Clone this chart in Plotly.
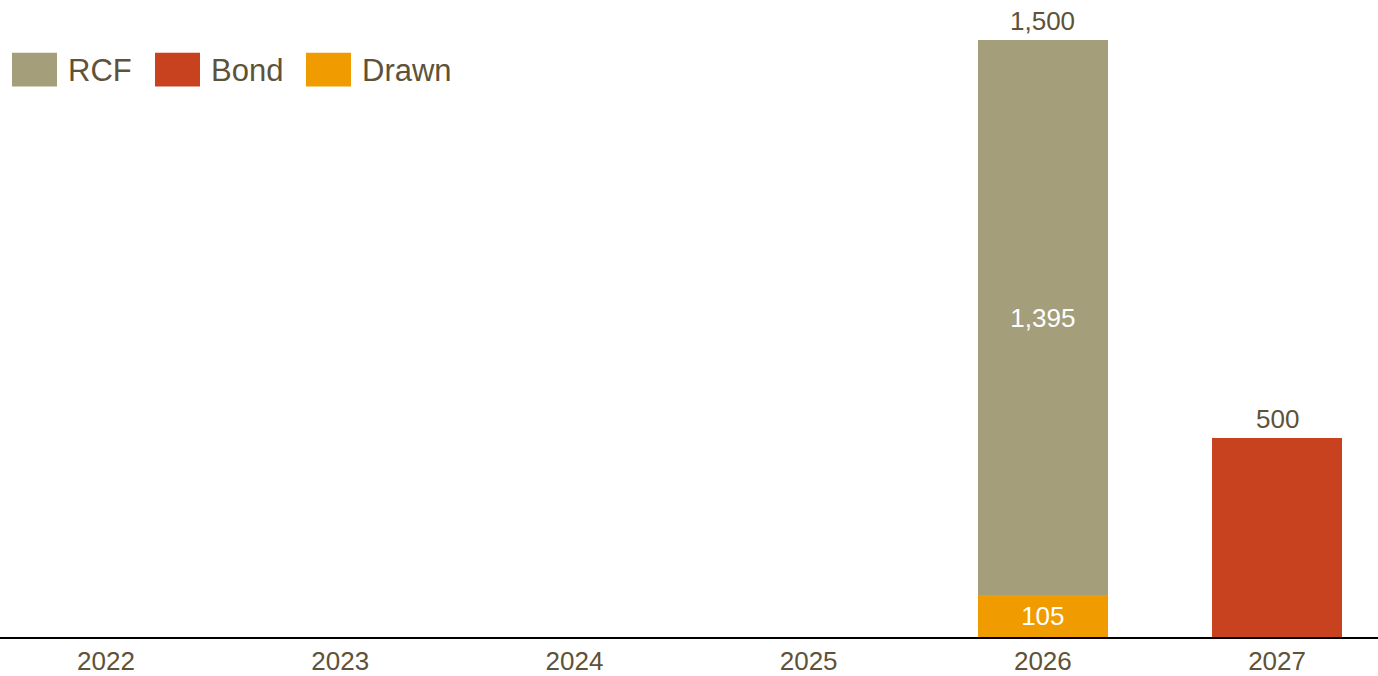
import plotly.graph_objects as go

years = ["2022", "2023", "2024", "2025", "2026", "2027"]
drawn = [None, None, None, None, 105, None]
rcf = [None, None, None, None, 1395, None]
bond = [None, None, None, None, None, 500]

series_names = ["RCF", "Bond", "Drawn"]
colors = {"RCF": "#A59E7B", "Bond": "#C9421F", "Drawn": "#F09C00"}
text_color = "#5E5238"
font_family = "Liberation Sans, Arial, sans-serif"

fig = go.Figure()
fig.add_trace(go.Bar(x=years, y=drawn, name="Drawn", marker_color=colors["Drawn"],
                     texttemplate="%{y:,}", textposition="inside", insidetextanchor="middle",
                     textfont=dict(color="white", size=26, family=font_family),
                     marker_line_width=0, showlegend=False))
fig.add_trace(go.Bar(x=years, y=rcf, name="RCF", marker_color=colors["RCF"],
                     texttemplate="%{y:,}", textposition="inside", insidetextanchor="middle",
                     textfont=dict(color="white", size=26, family=font_family),
                     marker_line_width=0, showlegend=False))
fig.add_trace(go.Bar(x=years, y=bond, name="Bond", marker_color=colors["Bond"],
                     textposition="none", marker_line_width=0, showlegend=False))

# totals
annotations = []
for i, yr in enumerate(years):
    tot = sum(v for v in (drawn[i], rcf[i], bond[i]) if v)
    if tot:
        annotations.append(dict(x=i, y=tot, xref="x", yref="y", text=f"{tot:,}",
                                showarrow=False, yanchor="bottom", yshift=2,
                                font=dict(size=26, color=text_color, family=font_family)))

# custom legend
shapes = []
leg_x = [12, 155, 306]
W = 1378
H = 676
PH = 641
for name, x0 in zip(series_names, leg_x):
    shapes.append(dict(type="rect", xref="paper", yref="paper",
                       x0=x0 / W, x1=(x0 + 45) / W,
                       y0=1 - 87 / PH, y1=1 - 53 / PH,
                       fillcolor=colors[name], line_width=0))
    annotations.append(dict(x=(x0 + 54) / W, y=1 - 71 / PH, xref="paper", yref="paper",
                            text=name, showarrow=False, xanchor="left", yanchor="middle",
                            font=dict(size=31, color=text_color, family=font_family)))

fig.update_layout(
    barmode="stack",
    bargap=0.445,
    width=W, height=H,
    margin=dict(l=0, r=0, t=0, b=H - PH),
    plot_bgcolor="white", paper_bgcolor="white",
    xaxis=dict(type="category", range=[-0.4526, 5.431], showgrid=False, showline=True,
               linecolor="black", linewidth=2, ticks="",
               tickfont=dict(size=26, color=text_color, family=font_family)),
    yaxis=dict(range=[0, 1600], visible=False, showgrid=False),
    shapes=shapes,
    annotations=annotations,
)

fig.write_html("out.html", config={"displayModeBar": False},
               post_script="document.body.style.margin='0';document.body.style.overflow='hidden';")
